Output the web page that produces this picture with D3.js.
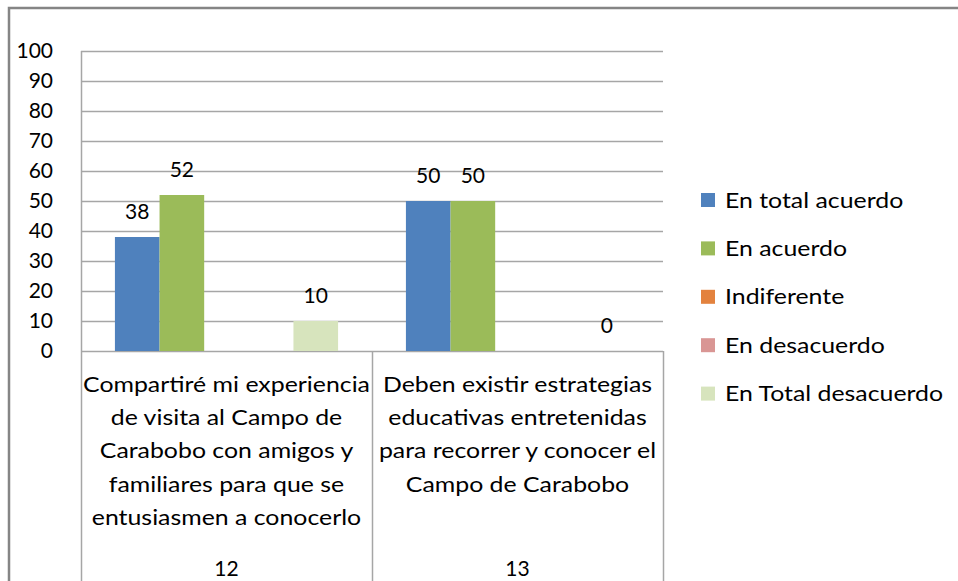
<!DOCTYPE html>
<html>
<head>
<meta charset="utf-8">
<script src="https://cdn.jsdelivr.net/npm/d3@7"></script>
<style>
  html, body { margin: 0; padding: 0; background: #fff; }
  svg text { font-family: Lato, "Open Sans", sans-serif; fill: #000; }
</style>
</head>
<body>
<div id="chart"></div>
<script>
const categories = ['12', '13'];
const categoryLabels = [
  ['Compartiré mi experiencia', 'de visita al Campo de', 'Carabobo con amigos y', 'familiares para que se', 'entusiasmen a conocerlo'],
  ['Deben existir estrategias', 'educativas entretenidas', 'para recorrer y conocer el', 'Campo de Carabobo']
];
const seriesNames = ['En total acuerdo', 'En acuerdo', 'Indiferente', 'En desacuerdo', 'En Total desacuerdo'];
const seriesColors = ['#4f81bd', '#9bbb59', '#e3823e', '#d99694', '#d7e4bd'];
// null = no value in the sheet (no bar, no label)
const values = [
  [38, 52, null, null, 10],
  [50, 50, null, null, 0]
];
const yTicks = [0, 10, 20, 30, 40, 50, 60, 70, 80, 90, 100];

const W = 958, H = 581;
const plot = { left: 81, right: 663, top: 51, bottom: 351 };
const stretch = 1.13; // the source text is a bit wider than Lato

const svg = d3.select('#chart').append('svg')
  .attr('width', W).attr('height', H);

// outer chart frame (only top and left visible)
svg.append('path')
  .attr('d', `M9,${H + 5} L9,8 L${W + 5},8`)
  .attr('fill', 'none').attr('stroke', '#858585').attr('stroke-width', 2.5);

const x0 = d3.scaleBand().domain(categories).range([plot.left, plot.right]);
const x1 = d3.scaleBand().domain(seriesNames).range([0, x0.bandwidth()])
  .paddingInner(0).paddingOuter(0.76);
const y = d3.scaleLinear().domain([0, 100]).range([plot.bottom, plot.top]);

// gridlines
svg.append('g').selectAll('line').data(yTicks).join('line')
  .attr('x1', plot.left).attr('x2', plot.right)
  .attr('y1', (d) => Math.round(y(d)) + 0.5).attr('y2', (d) => Math.round(y(d)) + 0.5)
  .attr('stroke', '#a6a6a6').attr('stroke-width', 1.5);

// y axis line
svg.append('line')
  .attr('x1', plot.left + 0.5).attr('x2', plot.left + 0.5)
  .attr('y1', plot.top).attr('y2', plot.bottom)
  .attr('stroke', '#a6a6a6').attr('stroke-width', 1.5);

// y tick labels
svg.append('g').selectAll('text').data(yTicks).join('text')
  .attr('x', 53).attr('y', (d) => y(d) + 7)
  .attr('text-anchor', 'end').attr('font-size', 21)
  .text((d) => d);

// category dividers of the multi-level axis
const dividers = [plot.left, ...categories.map((c) => x0(c) + x0.bandwidth())];
svg.append('g').selectAll('line').data(dividers).join('line')
  .attr('x1', (d) => Math.round(d) + 0.5).attr('x2', (d) => Math.round(d) + 0.5)
  .attr('y1', plot.bottom).attr('y2', H)
  .attr('stroke', '#a6a6a6').attr('stroke-width', 1.5);

// bars
const groups = svg.append('g').selectAll('g').data(categories).join('g')
  .attr('transform', (c) => `translate(${x0(c)},0)`);

const cells = groups.selectAll('g.cell')
  .data((c, ci) => seriesNames.map((s, si) => ({ s, si, v: values[ci][si] })).filter((d) => d.v !== null))
  .join('g').attr('class', 'cell');

cells.append('rect')
  .attr('x', (d) => x1(d.s)).attr('width', x1.bandwidth())
  .attr('y', (d) => y(d.v)).attr('height', (d) => y(0) - y(d.v))
  .attr('fill', (d) => seriesColors[d.si]);

cells.append('text')
  .attr('x', (d) => x1(d.s) + x1.bandwidth() / 2)
  .attr('y', (d) => y(d.v) - 18)
  .attr('text-anchor', 'middle').attr('font-size', 21)
  .text((d) => d.v);

// category labels (two levels)
const catText = svg.append('g').selectAll('g').data(categories).join('g')
  .attr('transform', (c) => `translate(${x0(c) + x0.bandwidth() / 2},0)`);

catText.selectAll('text.line')
  .data((c, ci) => categoryLabels[ci])
  .join('text').attr('class', 'line')
  .attr('transform', (d, i) => `translate(0,${392 + i * 33.2}) scale(${stretch},1)`)
  .attr('text-anchor', 'middle').attr('font-size', 22)
  .text((d) => d);

catText.append('text')
  .attr('x', 0).attr('y', 576)
  .attr('text-anchor', 'middle').attr('font-size', 21)
  .text((c) => c);

// legend
const legend = svg.append('g').selectAll('g').data(seriesNames).join('g')
  .attr('transform', (d, i) => `translate(701,${200 + i * 48.4})`);

legend.append('rect')
  .attr('x', 0).attr('y', -7).attr('width', 14).attr('height', 14)
  .attr('fill', (d, i) => seriesColors[i]);

legend.append('text')
  .attr('transform', `translate(24,7.5) scale(${stretch},1)`)
  .attr('font-size', 22)
  .text((d) => d);
</script>
</body>
</html>
